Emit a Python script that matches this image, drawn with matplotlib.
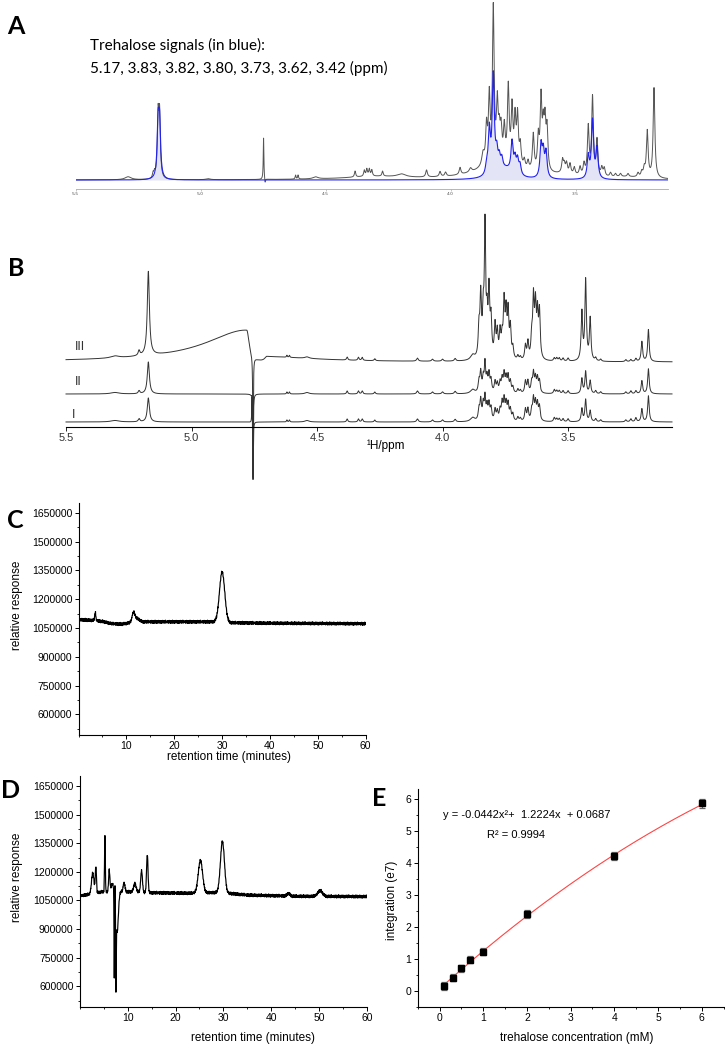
import matplotlib

matplotlib.use("Agg")
import matplotlib.pyplot as plt
import numpy as np
from matplotlib.ticker import MultipleLocator

# ---------------- data -------------------------------------------------------
# Panel A: 1H spectrum of the extract (grey) and fitted trehalose lines (blue)
# (ppm, height, half-width) -- heights in arbitrary units
A_GRAY = [
    (5.29, 3, 0.015), (5.190, 5, 0.003), (5.184, 5, 0.003),
    (5.170, 60, 0.0035), (5.164, 60, 0.0035), (4.97, 1, 0.01),
    (4.620, 4, 0.002), (4.610, 4, 0.002), (4.54, 2, 0.012),
    (4.382, 6, 0.003), (4.345, 6, 0.003), (4.335, 7, 0.003), (4.325, 7, 0.003),
    (4.315, 6, 0.003), (4.272, 5, 0.003), (4.196, 3, 0.02), (4.096, 7, 0.004),
    (4.042, 5, 0.004), (4.020, 4, 0.004), (3.962, 7, 0.004), (3.92, 4, 0.006),
    (3.870, 12, 0.006), (3.856, 36, 0.004), (3.845, 64, 0.004),
    (3.829, 152, 0.004), (3.813, 54, 0.004), (3.805, 24, 0.004),
    (3.798, 28, 0.004), (3.785, 32, 0.004), (3.769, 74, 0.004),
    (3.754, 54, 0.004), (3.742, 44, 0.004), (3.732, 48, 0.004),
    (3.721, 20, 0.004), (3.705, 8, 0.004), (3.690, 8, 0.004),
    (3.669, 36, 0.004), (3.649, 32, 0.004), (3.638, 70, 0.004),
    (3.629, 38, 0.004), (3.622, 44, 0.004), (3.614, 40, 0.004),
    (3.552, 13, 0.004), (3.545, 8, 0.004), (3.536, 10, 0.004),
    (3.522, 10, 0.004), (3.505, 7, 0.004), (3.482, 8, 0.004),
    (3.466, 11, 0.004), (3.449, 48, 0.004), (3.432, 78, 0.004),
    (3.414, 35, 0.004), (3.395, 8, 0.004), (3.385, 8, 0.004),
    (3.360, 4, 0.004), (3.340, 3, 0.004), (3.320, 3, 0.004),
    (3.290, 3, 0.004), (3.250, 4, 0.004), (3.235, 5, 0.004),
    (3.225, 8, 0.004), (3.213, 46, 0.004), (3.186, 90, 0.004),
]
A_GRAY_BROAD = [(3.80, 16, 0.10), (4.30, 3, 0.15), (3.55, 3, 0.08), (3.30, 2, 0.08)]
A_WATER = [(4.748, 42, 0.0015), (4.742, -5, 0.002)]
A_BLUE = [
    (5.170, 52, 0.0045), (5.164, 52, 0.0045),
    (3.856, 8, 0.005), (3.845, 44, 0.005), (3.829, 98, 0.005),
    (3.815, 18, 0.005), (3.805, 12, 0.005), (3.795, 10, 0.005),
    (3.780, 10, 0.04), (3.754, 30, 0.005), (3.742, 14, 0.005),
    (3.732, 14, 0.005), (3.722, 10, 0.005),
    (3.638, 32, 0.005), (3.629, 24, 0.005), (3.618, 25, 0.005),
    (3.449, 22, 0.005), (3.432, 58, 0.005), (3.414, 30, 0.005),
]
A_TICKS = [5.5, 5.0, 4.5, 4.0, 3.5]

# Panel B: three stacked spectra I, II, III
B_PPM = [5.305, 5.209, 5.172, 4.620, 4.610, 4.540, 4.380, 4.335, 4.320,
         4.270, 4.100, 4.040, 4.000, 3.950, 3.880, 3.855, 3.848, 3.838, 3.831,
         3.823, 3.815, 3.807, 3.791, 3.782, 3.771, 3.763, 3.755, 3.747, 3.739,
         3.730, 3.720, 3.700, 3.690, 3.670, 3.660, 3.645, 3.638, 3.630, 3.622,
         3.614, 3.555, 3.545, 3.535, 3.520, 3.500, 3.445, 3.430, 3.412, 3.390,
         3.370, 3.270, 3.250, 3.230, 3.206, 3.180]
B_W = [0.02, 0.004, 0.005, 0.002, 0.002, 0.01, 0.003, 0.003, 0.003,
       0.003, 0.004, 0.004, 0.004, 0.004, 0.01, 0.0035, 0.0035, 0.0035, 0.003,
       0.0035, 0.0035, 0.0035, 0.0035, 0.0035, 0.0035, 0.0035, 0.0035, 0.0035,
       0.0035, 0.0035, 0.0035, 0.0035, 0.0035, 0.0035, 0.0035, 0.0035, 0.0035,
       0.0035, 0.0035, 0.0035, 0.0035, 0.0035, 0.0035, 0.0035, 0.0035, 0.0035,
       0.0035, 0.0035, 0.0035, 0.0035, 0.0035, 0.0035, 0.0035, 0.0035, 0.0035]
B_I = [1.5, 3, 24, 2, 2, 1.5, 3, 3, 3, 2, 3, 2, 2, 2.5, 4, 11, 20, 16, 22,
       14, 16, 12, 11, 9, 10, 17, 20, 16, 16, 11, 7, 4, 3, 12, 12, 10, 21, 17,
       16, 14, 4, 3, 3, 3, 3, 13, 22, 11, 3, 2, 2, 3, 4, 13, 26]
B_II = [1.5, 3, 32, 2, 2, 1.5, 3, 3, 3, 2, 3, 2, 2, 2.5, 4, 11, 20, 14, 28,
        14, 18, 12, 11, 9, 10, 13, 18, 14, 16, 11, 6, 4, 3, 12, 12, 10, 19, 14,
        14, 12, 4, 3, 3, 3, 3, 15, 22, 13, 3, 2, 2, 3, 3, 13, 25]
B_III = [2, 5, 84, 2, 2, 1.5, 3, 3, 3, 2, 3, 2, 2, 2.5, 5, 28, 60, 40, 126,
         36, 64, 36, 32, 25, 25, 18, 54, 42, 44, 30, 11, 4, 3, 14, 17, 20, 58,
         50, 42, 46, 3, 3, 3, 3, 3, 48, 80, 42, 3, 2, 2, 2, 3, 20, 32]
B_WATER_UP = [30, 5, 0]          # positive lobe of the water line
B_WATER_DOWN = [-58, -86, -118]  # negative lobe of the water line
B_III_HUMP = [(4.780, 32, 0.20, 0.012), (4.700, 5, 0.010, 0.25)]
B_LABELS = ["I", "II", "III"]
B_TICKS = [5.5, 5.0, 4.5, 4.0, 3.5]

# Panels C / D: HPLC traces (values in units of 1000)
NOISE = [3, -4, 6, -2, -7, 5, 1, -5, 8, -3, 2, -6, 4, 7, -8, 0, 5, -4, -1, 6,
         -7, 3, 9, -5, -2, 4, -6, 1, 7, -3, -8, 5, 2, -4, 6, -1, -6, 8, -2, 3,
         -5, 0, 7, -7, 4, 1, -3, 6, -8, 2, 5, -4, -6, 3, 8, -1, -5, 4, -2, 7,
         -7, 1, 6, -3, -4, 9, -6, 2, 0, -5, 5, -2, 3]
C_BASE_T = [0.3, 3, 5, 7, 9, 11, 14, 29, 32, 40, 60]
C_BASE_V = [1093, 1090, 1084, 1072, 1070, 1078, 1082, 1082, 1077, 1075, 1072]
C_PEAKS = [(3.5, 42, 0.12), (11.5, 50, 0.3), (12.3, 18, 0.5), (30.0, 262, 0.55)]
D_BASE_T = [0.3, 2, 4.5, 10, 12, 15, 23, 27, 29, 32, 35, 45, 60]
D_BASE_V = [1075, 1082, 1095, 1095, 1095, 1090, 1088, 1090, 1092, 1085, 1078,
            1072, 1070]
D_PEAKS = [(2.7, 110, 0.25), (3.35, 140, 0.12), (5.25, 295, 0.08),
           (6.15, 110, 0.13), (6.8, 40, 0.3), (7.2, -465, 0.055),
           (7.35, 70, 0.06), (7.55, -400, 0.055), (7.8, -210, 0.25),
           (9.25, 45, 0.2), (11.5, 45, 0.25), (12.9, 112, 0.18),
           (14.1, 200, 0.15), (25.2, 170, 0.45), (29.8, 268, 0.42),
           (43.6, 14, 0.3), (50.2, 30, 0.5)]

# Panel E: calibration
E_CONC = [0.1, 0.3, 0.5, 0.7, 1.0, 2.0, 4.0, 6.0]
E_INT = [0.16, 0.42, 0.71, 0.98, 1.22, 2.41, 4.20, 5.85]
E_ERR = [0.12, 0.10, 0.11, 0.11, 0.11, 0.13, 0.12, 0.14]
E_FIT = [-0.0442, 1.2224, 0.0687]

# ---------------- helpers ----------------------------------------------------
W, H = 725, 1047
fig = plt.figure(figsize=(W / 100, H / 100), dpi=100)
fig.patch.set_facecolor("white")

SANS = ["Liberation Sans", "DejaVu Sans"]
CAL = ["Lato", "DejaVu Sans"]


def ax_px(left, top, right, bottom):
    return fig.add_axes([left / W, 1 - bottom / H, (right - left) / W, (bottom - top) / H])


def txt(x, y, s, **kw):
    return fig.text(x / W, 1 - y / H, s, **kw)


def lor(x, peaks):
    out = np.zeros_like(x)
    for p in peaks:
        if len(p) == 3:
            c, h, w = p
            out += h / (1 + ((x - c) / w) ** 2)
        else:
            c, h, whi, wlo = p
            w = np.where(x > c, whi, wlo)
            out += h / (1 + ((x - c) / w) ** 2)
    return out


def gau(t, peaks):
    out = np.zeros_like(t)
    for c, h, s in peaks:
        out += h * np.exp(-0.5 * ((t - c) / s) ** 2)
    return out


# ---------------- A ----------------------------------------------------------
axA = ax_px(75.6, 0, 668, 192)
x = np.linspace(5.5, 3.13, 9000)
base = 12
gray = base + lor(x, A_GRAY) + lor(x, A_GRAY_BROAD) + lor(x, A_WATER)
blue = base + lor(x, A_BLUE)
axA.fill_between(x, base, blue, color="#e4e4f7", lw=0)
axA.plot(x, gray, color="#555555", lw=0.7)
axA.plot(x, blue, color="#2222ee", lw=0.8)
axA.set_xlim(5.5, 3.13)
axA.set_ylim(0, 192)
for s in ("top", "right", "left"):
    axA.spines[s].set_visible(False)
axA.spines["bottom"].set_position(("data", 3))
axA.spines["bottom"].set_color("#aaaaaa")
axA.spines["bottom"].set_linewidth(0.6)
axA.set_yticks([])
axA.set_xticks(A_TICKS)
axA.set_xticklabels([f"{t:.1f}" for t in A_TICKS])
axA.tick_params(axis="x", length=1.5, width=0.4, color="#999999",
                labelsize=3.2, labelcolor="#555555", pad=1)
axA.patch.set_alpha(0)

txt(90, 45, "Trehalose signals (in blue):", fontsize=11, family=CAL, va="center")
txt(90, 68, "5.17, 3.83, 3.82, 3.80, 3.73, 3.62, 3.42 (ppm)", fontsize=11,
    family=CAL, va="center")

# ---------------- B ----------------------------------------------------------
axB = ax_px(66, 205, 672, 485)
xb = np.linspace(5.5, 3.086, 12000)
offsets = [63, 91, 123]
for hts, up, dn, off in zip([B_I, B_II, B_III], B_WATER_UP, B_WATER_DOWN, offsets):
    pk = list(zip(B_PPM, hts, B_W))
    y = off + lor(xb, pk) + lor(xb, [(4.759, up, 0.0012), (4.755, dn, 0.0012)])
    if off == offsets[2]:
        y = y + lor(xb, B_III_HUMP)
    axB.plot(xb, y, color="#333333", lw=0.7, clip_on=False)
axB.set_xlim(5.5, 3.086)
axB.set_ylim(0, 280)
for s in ("top", "right", "left"):
    axB.spines[s].set_visible(False)
axB.spines["bottom"].set_position(("data", 58))
axB.spines["bottom"].set_linewidth(0.8)
axB.set_yticks([])
axB.set_xticks(B_TICKS)
axB.set_xticklabels([f"{t:.1f}" for t in B_TICKS])
axB.tick_params(axis="x", length=3, width=0.6, labelsize=8, labelcolor="#333333",
                pad=1.5)
for lab in axB.get_xticklabels():
    lab.set_family(SANS)
axB.patch.set_alpha(0)
for lab, (lx, ly) in zip(B_LABELS, [(74, 415), (78, 382), (80, 347)]):
    txt(lx, ly, lab, fontsize=9, family=SANS, color="#333333", va="center",
        ha="center", fontweight="light")
txt(386, 446, "\u00b9H/ppm", fontsize=8.5, family=SANS, ha="center", va="center")

# ---------------- C / D ------------------------------------------------------
t = np.arange(0.3, 60.0, 0.05)


def hplc(ax, base_t, base_v, peaks, shift):
    noise = np.roll(np.resize(np.array(NOISE, float), t.size), shift)
    y = (np.interp(t, base_t, base_v) + gau(t, peaks) + noise) * 1000
    ax.plot(t, y, color="black", lw=0.85)
    ax.set_xlim(0, 60)
    ax.set_ylim(492000, 1702000)
    yt = np.arange(600000, 1650001, 150000)
    ax.set_yticks(yt)
    ax.set_yticklabels([f"{v:d}" for v in yt])
    ax.yaxis.set_minor_locator(MultipleLocator(75000))
    ax.set_xticks([10, 20, 30, 40, 50, 60])
    ax.xaxis.set_minor_locator(MultipleLocator(5))
    for s in ("top", "right"):
        ax.spines[s].set_visible(False)
    for s in ("left", "bottom"):
        ax.spines[s].set_linewidth(0.8)
    ax.tick_params(which="major", length=3, width=0.7, labelsize=7.5, pad=1.5)
    ax.tick_params(which="minor", length=1.5, width=0.6)
    for lab in ax.get_xticklabels() + ax.get_yticklabels():
        lab.set_family(SANS)


axC = ax_px(78.5, 503, 365.7, 735)
hplc(axC, C_BASE_T, C_BASE_V, C_PEAKS, 0)
axD = ax_px(79.8, 776, 367, 1007)
hplc(axD, D_BASE_T, D_BASE_V, D_PEAKS, 31)

txt(17, 605, "relative response", rotation=90, fontsize=8.5, family=SANS,
    ha="center", va="center")
txt(229, 757, "retention time (minutes)", fontsize=8.5, family=SANS,
    ha="center", va="center")
txt(17, 877, "relative response", rotation=90, fontsize=8.5, family=SANS,
    ha="center", va="center")
txt(253, 1038, "retention time (minutes)", fontsize=8.5, family=SANS,
    ha="center", va="center")

# ---------------- E ----------------------------------------------------------
axE = ax_px(417.7, 789, 723.5, 1007)
xf = np.linspace(min(E_CONC), max(E_CONC), 200)
axE.plot(xf, np.polyval(E_FIT, xf), color="#ff4444", lw=0.8)
axE.errorbar(E_CONC, E_INT, yerr=E_ERR, fmt="s", color="black", ms=4.5,
             ecolor="#666666", elinewidth=0.9, capsize=2.5, capthick=0.9)
axE.set_xlim(-0.5, 6.5)
axE.set_ylim(-0.5, 6.3)
axE.set_xticks(range(0, 7))
axE.set_yticks(range(0, 7))
axE.xaxis.set_minor_locator(MultipleLocator(0.5))
axE.yaxis.set_minor_locator(MultipleLocator(0.5))
for s in ("top", "right"):
    axE.spines[s].set_visible(False)
for s in ("left", "bottom"):
    axE.spines[s].set_linewidth(0.8)
axE.tick_params(which="major", length=3, width=0.7, labelsize=7.5, pad=1.5)
axE.tick_params(which="minor", length=1.5, width=0.6)
for lab in axE.get_xticklabels() + axE.get_yticklabels():
    lab.set_family(SANS)
axE.patch.set_alpha(0)
txt(443, 815, "y = -0.0442x\u00b2+  1.2224x  + 0.0687", fontsize=8, family=SANS,
    va="center")
txt(487, 835, "R\u00b2 = 0.9994", fontsize=8, family=SANS, va="center")
txt(392, 900, "integration (e7)", rotation=90, fontsize=8.5, family=SANS,
    ha="center", va="center")
txt(577, 1038, "trehalose concentration (mM)", fontsize=8.5, family=SANS,
    ha="center", va="center")

# ---------------- panel letters ---------------------------------------------
for lab, (lx, ly) in zip("ABCDE", [(16, 26), (16, 269), (15, 520), (11, 790),
                                   (379, 799)]):
    txt(lx, ly, lab, fontsize=18, fontweight="bold", family=CAL, ha="center",
        va="center")

fig.savefig("out.png", dpi=100, facecolor="white")
